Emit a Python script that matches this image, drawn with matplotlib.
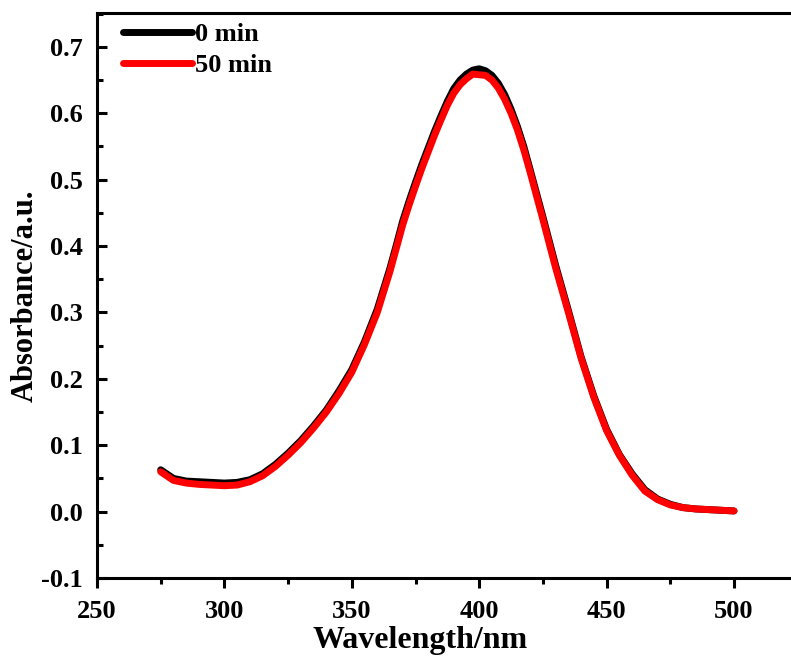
import matplotlib.pyplot as plt
from matplotlib.ticker import MultipleLocator, FormatStrFormatter

plt.rcParams['font.family'] = 'Liberation Serif'
plt.rcParams['font.weight'] = 'bold'
plt.rcParams['axes.unicode_minus'] = False

# wavelength (nm) and absorbance
wavelength = [275, 280, 285, 290, 295, 300, 305, 310, 315, 320,
              325, 330, 335, 340, 345, 350, 355, 360, 365, 367.5,
              370, 372.5, 375, 377.5, 380, 382.5, 385, 387.5, 390, 392.5,
              395, 397.5, 400, 402.5, 405, 407.5, 410, 412.5, 415, 417.5,
              420, 425, 430, 435, 440, 445, 450, 455, 460, 465,
              470, 475, 480, 485, 490, 495, 500]
abs_0min = [0.063, 0.050, 0.046, 0.045, 0.044, 0.043, 0.044, 0.048, 0.057, 0.071,
            0.088, 0.107, 0.129, 0.153, 0.182, 0.214, 0.256, 0.305, 0.367, 0.402,
            0.438, 0.468, 0.496, 0.523, 0.548, 0.573, 0.596, 0.618, 0.637, 0.650,
            0.659, 0.665, 0.667, 0.664, 0.657, 0.645, 0.628, 0.606, 0.580, 0.550,
            0.515, 0.444, 0.371, 0.303, 0.233, 0.174, 0.124, 0.086, 0.057, 0.033,
            0.019, 0.011, 0.006, 0.004, 0.003, 0.002, 0.001]
abs_50min = [0.060, 0.047, 0.043, 0.041, 0.040, 0.039, 0.040, 0.045, 0.054, 0.068,
             0.085, 0.104, 0.126, 0.150, 0.178, 0.210, 0.252, 0.300, 0.362, 0.397,
             0.432, 0.462, 0.490, 0.517, 0.542, 0.567, 0.590, 0.612, 0.630, 0.643,
             0.652, 0.659, 0.658, 0.657, 0.650, 0.638, 0.621, 0.600, 0.575, 0.545,
             0.511, 0.440, 0.367, 0.300, 0.231, 0.172, 0.122, 0.085, 0.055, 0.031,
             0.018, 0.010, 0.006, 0.004, 0.003, 0.002, 0.001]
labels = ['0 min', '50 min']

fig = plt.figure(figsize=(7.91, 6.64), dpi=100)
ax = fig.add_axes([97 / 791, 86 / 664, 700.7 / 791, 565 / 664])

ax.plot(wavelength, abs_0min, color='black', lw=5, label=labels[0],
        solid_capstyle='round')
ax.plot(wavelength, abs_50min, color='#ff0000', lw=5, label=labels[1],
        solid_capstyle='round')

ax.set_xlim(250, 525)
ax.set_ylim(-0.1, 0.751)
ax.xaxis.set_major_locator(MultipleLocator(50))
ax.xaxis.set_minor_locator(MultipleLocator(25))
ax.yaxis.set_major_locator(MultipleLocator(0.1))
ax.yaxis.set_minor_locator(MultipleLocator(0.05))
ax.yaxis.set_major_formatter(FormatStrFormatter('%.1f'))

for s in ax.spines.values():
    s.set_linewidth(2.2)
ax.spines['right'].set_visible(False)

ax.tick_params(axis='x', which='major', direction='out', length=7, width=2.2,
               labelsize=19, pad=9)
ax.tick_params(axis='x', which='minor', direction='out', length=4, width=2.2)
ax.tick_params(axis='y', which='major', direction='in', length=7, width=2.2,
               labelsize=19, pad=10)
ax.tick_params(axis='y', which='minor', direction='in', length=4, width=2.2)

ax.set_xlabel('Wavelength/nm', fontsize=23, fontweight='bold')
ax.set_ylabel('Absorbance/a.u.', fontsize=22, fontweight='bold')
ax.xaxis.set_label_coords(0.461, -0.085)
ax.yaxis.set_label_coords(-0.081, 0.5)

ax.legend(loc='upper left', bbox_to_anchor=(0.0, 1.03), frameon=False,
          fontsize=19, handlelength=2.6, handletextpad=0.1, labelspacing=0.3,
          borderaxespad=0.6)

fig.savefig('out.png', dpi=100)
